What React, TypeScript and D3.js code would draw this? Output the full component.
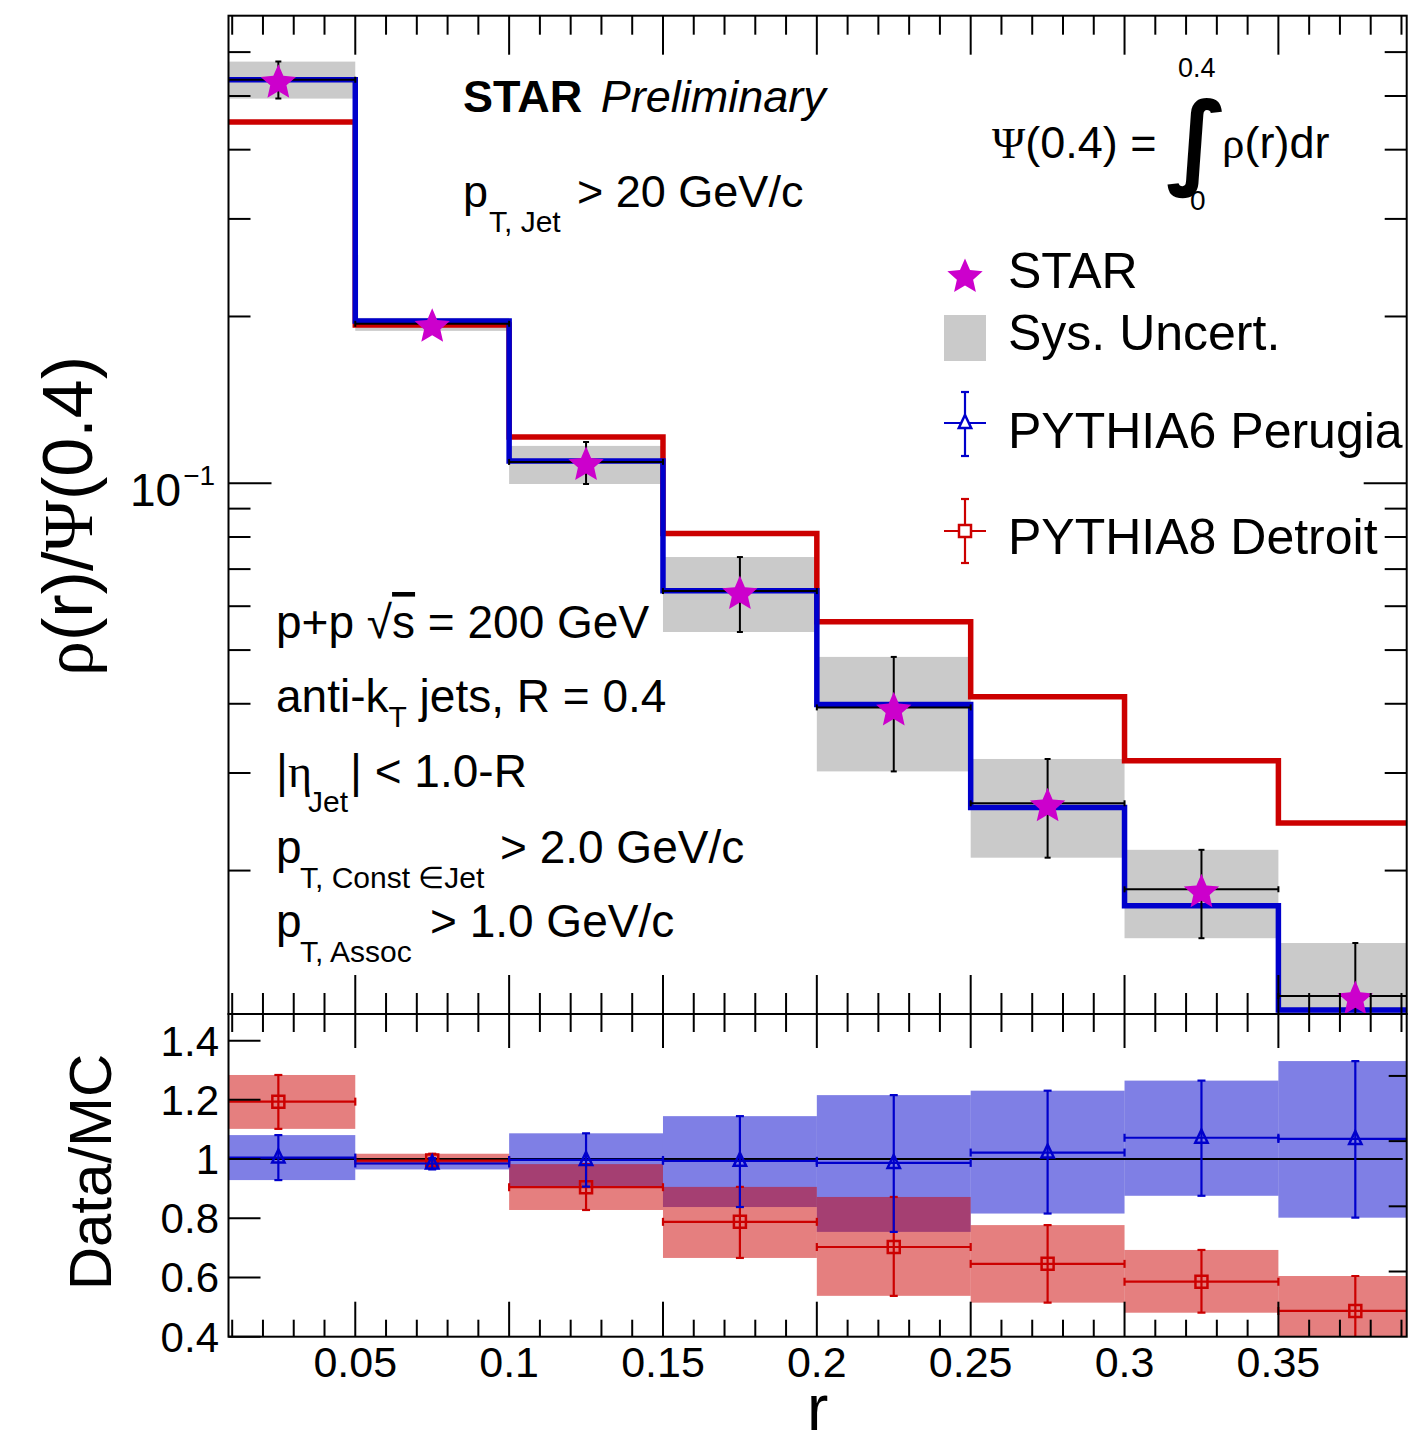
import React from 'react'
import * as d3 from 'd3'

// bins in r
const binEdges = [0, 0.05, 0.1, 0.15, 0.2, 0.25, 0.3, 0.35, 0.4]
const binCenters = [0.025, 0.075, 0.125, 0.175, 0.225, 0.275, 0.325, 0.375]

// STAR rho(r)/Psi(0.4)
const starValues = [0.535, 0.194, 0.1093, 0.0639, 0.0394, 0.02645, 0.0185, 0.01187]
const starStatLow = [0.4946, 0.19, 0.0997, 0.0539, 0.0302, 0.0211, 0.0151, 0.0095]
const starStatHigh = [0.5768, 0.198, 0.1187, 0.0736, 0.0486, 0.0318, 0.0218, 0.0148]
const starSysLow = [0.4946, 0.1884, 0.0997, 0.0539, 0.0302, 0.0211, 0.0151, 0.0095]
const starSysHigh = [0.5768, 0.1988, 0.1168, 0.0736, 0.0486, 0.0318, 0.0218, 0.0148]

// MC curves
const pythia6Values = [0.535, 0.1963, 0.1097, 0.064, 0.0399, 0.026, 0.01728, 0.0112]
const pythia8Values = [0.4487, 0.1931, 0.1212, 0.0812, 0.05625, 0.0412, 0.03157, 0.02436]

// Data/MC
const ratio6Values = [1.005, 0.985, 0.997, 0.994, 0.987, 1.022, 1.072, 1.068]
const ratio6Low = [0.929, 0.965, 0.907, 0.838, 0.754, 0.816, 0.876, 0.802]
const ratio6High = [1.081, 1.003, 1.087, 1.145, 1.216, 1.231, 1.265, 1.331]
const ratio8Values = [1.194, 0.995, 0.905, 0.788, 0.703, 0.646, 0.586, 0.487]
const ratio8Low = [1.102, 0.982, 0.828, 0.666, 0.538, 0.515, 0.481, 0.39]
const ratio8High = [1.284, 1.018, 0.983, 0.906, 0.872, 0.777, 0.693, 0.605]

const xTickValues = [0.05, 0.1, 0.15, 0.2, 0.25, 0.3, 0.35]
const xTickLabels = ['0.05', '0.1', '0.15', '0.2', '0.25', '0.3', '0.35']
const ratioTickValues = [0.4, 0.6, 0.8, 1, 1.2, 1.4]
const ratioTickLabels = ['0.4', '0.6', '0.8', '1', '1.2', '1.4']
const ratioRightTicks = [0.6, 0.8, 1.0, 1.2]

const FONT = '"Liberation Sans", Arial, Helvetica, sans-serif'
const SERIF = '"Liberation Serif", "DejaVu Serif", serif'
const BLUE = '#0000cc'
const RED = '#cc0000'
const MAGENTA = '#cc00cc'

// frame
const L = 228.5
const R = 1406.7
const T = 15.7
const M = 1014
const B = 1336.7

const x = d3.scaleLinear().domain([0.0088, 0.3917]).range([L, R])
const yTop = d3.scaleLog().domain([0.01102, 0.698]).range([M, T])
const yRatio = d3.scaleLinear().domain([0.4, 1.49]).range([B, M])
const yRatioRight = d3.scaleLinear().domain([0.4, 1.39]).range([B, M])

// fat five-point star like the ROOT marker
const fatStar = {
  draw(ctx: any, size: number) {
    const ro = Math.sqrt(size) / 1.05
    const ri = ro * 0.46
    for (let k = 0; k < 10; k++) {
      const r = k % 2 ? ri : ro
      const a = (k * Math.PI) / 5
      const px = r * Math.sin(a)
      const py = -r * Math.cos(a)
      if (k === 0) ctx.moveTo(px, py)
      else ctx.lineTo(px, py)
    }
    ctx.closePath()
  },
}
const starPath = d3.symbol(fatStar as any, 380)() as string
const triPath = 'M0,-8L6.2,5L-6.2,5Z'
const sqPath = 'M-6,-6H6V6H-6Z'

const stepPath = (vals: number[]) =>
  d3
    .line<number>()
    .x((d) => x(d))
    .y((_, i) => yTop(vals[Math.min(i, vals.length - 1)]))
    .curve(d3.curveStepAfter)(binEdges) as string

const ErrBar = ({ cx, cy, x0, x1, y0, y1, color, w = 2.2, cap = 4 }: any) => (
  <g stroke={color} strokeWidth={w} fill="none">
    <line x1={x0} x2={x1} y1={cy} y2={cy} />
    <line x1={x0} x2={x0} y1={cy - cap} y2={cy + cap} />
    <line x1={x1} x2={x1} y1={cy - cap} y2={cy + cap} />
    <line x1={cx} x2={cx} y1={y0} y2={y1} />
    <line x1={cx - cap} x2={cx + cap} y1={y0} y2={y0} />
    <line x1={cx - cap} x2={cx + cap} y1={y1} y2={y1} />
  </g>
)

const App = () => {
  const minorX = d3.range(1, 40).map((i) => i / 100)
  const isMajorX = (v: number) => Math.abs(v / 0.05 - Math.round(v / 0.05)) < 1e-6
  const logTicks = yTop.ticks()
  const isMajorY = (v: number) => Math.abs(Math.log10(v) - Math.round(Math.log10(v))) < 1e-6

  return (
    <svg
      width={1409}
      height={1437}
      style={{ position: 'absolute', left: 0, top: 0, background: '#fff' }}
      fontFamily={FONT}
    >
      <defs>
        <clipPath id="clipTop">
          <rect x={L} y={T} width={R - L} height={M - T} />
        </clipPath>
        <clipPath id="clipBot">
          <rect x={L} y={M} width={R - L} height={B - M} />
        </clipPath>
      </defs>
      <rect x={0} y={0} width={1409} height={1437} fill="#fff" />

      {/* top panel */}
      <g clipPath="url(#clipTop)">
        {binCenters.map((c, i) => (
          <rect
            key={'sys' + i}
            x={x(binEdges[i])}
            width={x(binEdges[i + 1]) - x(binEdges[i])}
            y={yTop(starSysHigh[i])}
            height={yTop(starSysLow[i]) - yTop(starSysHigh[i])}
            fill="#cacaca"
          />
        ))}
        <path d={stepPath(pythia8Values)} fill="none" stroke={RED} strokeWidth={5.5} />
        <path d={stepPath(pythia6Values)} fill="none" stroke={BLUE} strokeWidth={5.5} />
        {binCenters.map((c, i) => (
          <g key={'star' + i}>
            <ErrBar
              cx={x(c)}
              cy={yTop(starValues[i])}
              x0={x(binEdges[i])}
              x1={x(binEdges[i + 1])}
              y0={yTop(starStatHigh[i])}
              y1={yTop(starStatLow[i])}
              color="#000"
              w={2}
              cap={3}
            />
            <path
              d={starPath}
              transform={`translate(${x(c)},${yTop(starValues[i]) + 3})`}
              fill={MAGENTA}
            />
          </g>
        ))}
      </g>

      {/* ratio panel */}
      <g clipPath="url(#clipBot)">
        {binCenters.map((c, i) => (
          <rect
            key={'b6' + i}
            x={x(binEdges[i])}
            width={x(binEdges[i + 1]) - x(binEdges[i])}
            y={yRatio(ratio6High[i])}
            height={yRatio(ratio6Low[i]) - yRatio(ratio6High[i])}
            fill={BLUE}
            fillOpacity={0.5}
          />
        ))}
        {binCenters.map((c, i) => (
          <rect
            key={'b8' + i}
            x={x(binEdges[i])}
            width={x(binEdges[i + 1]) - x(binEdges[i])}
            y={yRatio(ratio8High[i])}
            height={yRatio(ratio8Low[i]) - yRatio(ratio8High[i])}
            fill={RED}
            fillOpacity={0.5}
          />
        ))}
        <line x1={L} x2={R - 4} y1={yRatio(1)} y2={yRatio(1)} stroke="#000" strokeWidth={2} />
        {binCenters.map((c, i) => (
          <g key={'p8' + i}>
            <ErrBar
              cx={x(c)}
              cy={yRatio(ratio8Values[i])}
              x0={x(binEdges[i])}
              x1={x(binEdges[i + 1])}
              y0={yRatio(ratio8High[i])}
              y1={yRatio(ratio8Low[i])}
              color={RED}
            />
            <path
              d={sqPath}
              transform={`translate(${x(c)},${yRatio(ratio8Values[i])})`}
              fill="none"
              stroke={RED}
              strokeWidth={2.5}
            />
          </g>
        ))}
        {binCenters.map((c, i) => (
          <g key={'p6' + i}>
            <ErrBar
              cx={x(c)}
              cy={yRatio(ratio6Values[i])}
              x0={x(binEdges[i])}
              x1={x(binEdges[i + 1])}
              y0={yRatio(ratio6High[i])}
              y1={yRatio(ratio6Low[i])}
              color={BLUE}
            />
            <path
              d={triPath}
              transform={`translate(${x(c)},${yRatio(ratio6Values[i])})`}
              fill="none"
              stroke={BLUE}
              strokeWidth={2.5}
            />
          </g>
        ))}
      </g>

      {/* ticks */}
      <g stroke="#000" strokeWidth={2}>
        {minorX.map((v) => {
          const maj = isMajorX(v)
          const px = x(v)
          return (
            <g key={'xt' + v}>
              <line x1={px} x2={px} y1={T} y2={T + (maj ? 39 : 19)} />
              <line x1={px} x2={px} y1={M} y2={M - (maj ? 39 : 21)} />
              <line x1={px} x2={px} y1={M} y2={M + (maj ? 34 : 18)} />
              <line x1={px} x2={px} y1={B} y2={B - (maj ? 35 : 17)} />
            </g>
          )
        })}
        {logTicks.map((v) => {
          const maj = isMajorY(v)
          const py = yTop(v)
          return (
            <g key={'yt' + v}>
              <line x1={L} x2={L + (maj ? 43 : 22)} y1={py} y2={py} />
              <line x1={R} x2={R - (maj ? 43 : 22)} y1={py} y2={py} />
            </g>
          )
        })}
        {ratioTickValues.map((v) => (
          <line key={'rt' + v} x1={L} x2={L + 32} y1={yRatio(v)} y2={yRatio(v)} />
        ))}
        {ratioRightTicks.map((v) => (
          <line key={'rr' + v} x1={R} x2={R - 18} y1={yRatioRight(v)} y2={yRatioRight(v)} />
        ))}
      </g>

      {/* frames */}
      <rect x={L} y={T} width={R - L} height={M - T} fill="none" stroke="#000" strokeWidth={2} />
      <rect x={L} y={M} width={R - L} height={B - M} fill="none" stroke="#000" strokeWidth={2} />

      {/* tick labels */}
      <g fontSize={43} textAnchor="middle">
        {xTickValues.map((v, i) => (
          <text key={'xl' + v} x={x(v)} y={1377}>
            {xTickLabels[i]}
          </text>
        ))}
      </g>
      <g fontSize={42} textAnchor="end">
        {ratioTickValues.map((v, i) => (
          <text key={'rl' + v} x={219} y={yRatio(v) + 15}>
            {ratioTickLabels[i]}
          </text>
        ))}
      </g>
      <text x={130} y={506} fontSize={46}>
        10
        <tspan fontSize={28} dy={-21} dx={2}>
          −1
        </tspan>
      </text>

      {/* axis titles */}
      <text transform="translate(92,516) rotate(-90)" textAnchor="middle" fontSize={70}>
        <tspan fontFamily={SERIF}>ρ</tspan>(r)/<tspan fontFamily={SERIF}>Ψ</tspan>(0.4)
      </text>
      <text transform="translate(111,1172) rotate(-90)" textAnchor="middle" fontSize={60}>
        Data/MC
      </text>
      <text x={(L + R) / 2} y={1430} textAnchor="middle" fontSize={64}>
        r
      </text>

      {/* header texts */}
      <text x={463} y={112} fontSize={45}>
        <tspan fontWeight="bold">STAR</tspan>
        <tspan fontStyle="italic" dx={6}>
          {' '}
          Preliminary
        </tspan>
      </text>
      <text x={463} y={207} fontSize={45}>
        p
      </text>
      <text x={489} y={232} fontSize={30}>
        T, Jet
      </text>
      <text x={577} y={207} fontSize={45}>
        {'> 20 GeV/c'}
      </text>

      {/* formula */}
      <text x={992} y={158} fontSize={45}>
        <tspan fontFamily={SERIF}>Ψ</tspan>(0.4) =
      </text>
      <text
        x={1166}
        y={175}
        fontSize={102}
        fontWeight="bold"
        fontFamily='"DejaVu Sans", sans-serif'
      >
        ∫
      </text>
      <text x={1178} y={77} fontSize={27}>
        0.4
      </text>
      <text x={1190} y={210} fontSize={28}>
        0
      </text>
      <text x={1222} y={158} fontSize={45}>
        <tspan fontFamily={SERIF}>ρ</tspan>(r)dr
      </text>

      {/* legend */}
      <path d={starPath} transform="translate(965,277)" fill={MAGENTA} />
      <rect x={944} y={315} width={42} height={46} fill="#cacaca" />
      <ErrBar cx={965} cy={423} x0={944} x1={986} y0={392} y1={456} color={BLUE} cap={0} />
      <line x1={961} x2={969} y1={392} y2={392} stroke={BLUE} strokeWidth={2.2} />
      <line x1={961} x2={969} y1={456} y2={456} stroke={BLUE} strokeWidth={2.2} />
      <path d={triPath} transform="translate(965,423)" fill="#fff" stroke={BLUE} strokeWidth={2.5} />
      <ErrBar cx={965} cy={531} x0={944} x1={986} y0={499} y1={563} color={RED} cap={0} />
      <line x1={961} x2={969} y1={499} y2={499} stroke={RED} strokeWidth={2.2} />
      <line x1={961} x2={969} y1={563} y2={563} stroke={RED} strokeWidth={2.2} />
      <path d={sqPath} transform="translate(965,531)" fill="#fff" stroke={RED} strokeWidth={2.5} />
      <g fontSize={50}>
        <text x={1008} y={288}>
          STAR
        </text>
        <text x={1008} y={350}>
          Sys. Uncert.
        </text>
        <text x={1008} y={448}>
          PYTHIA6 Perugia
        </text>
        <text x={1008} y={554}>
          PYTHIA8 Detroit
        </text>
      </g>

      {/* cuts */}
      <g fontSize={46}>
        <text x={276} y={638}>
          p+p{'  '}√<tspan style={{ textDecoration: 'overline' }}>s</tspan> = 200 GeV
        </text>
        <text x={276} y={712}>
          anti-k
          <tspan fontSize={30} dy={15}>
            T
          </tspan>
          <tspan dy={-15}> jets, R = 0.4</tspan>
        </text>
        <text x={276} y={787}>
          |<tspan fontFamily={SERIF}>η</tspan>
        </text>
        <text x={308} y={812} fontSize={30}>
          Jet
        </text>
        <text x={350} y={787}>
          {'| < 1.0-R'}
        </text>
        <text x={276} y={863}>
          p
        </text>
        <text x={300} y={888} fontSize={30}>
          T, Const ∈Jet
        </text>
        <text x={500} y={863}>
          {'> 2.0 GeV/c'}
        </text>
        <text x={276} y={937}>
          p
        </text>
        <text x={300} y={962} fontSize={30}>
          T, Assoc
        </text>
        <text x={430} y={937}>
          {'> 1.0 GeV/c'}
        </text>
      </g>
    </svg>
  )
}

export default App
